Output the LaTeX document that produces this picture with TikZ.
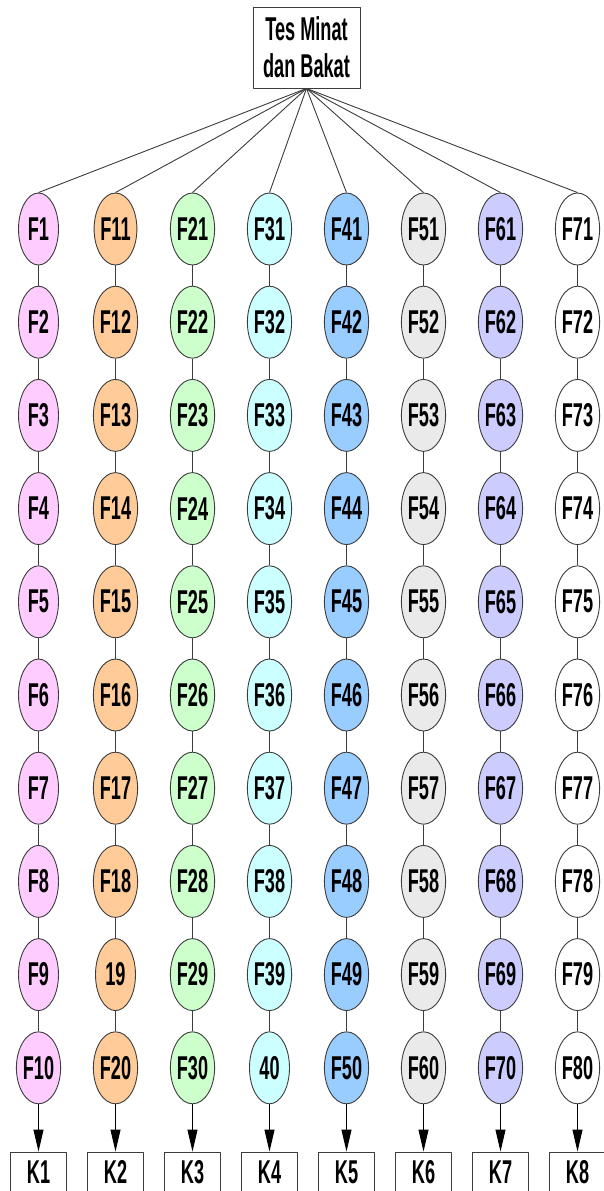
\documentclass[tikz,border=0pt]{standalone}
\usepackage{fontspec}
\setmainfont{Liberation Sans}[FakeStretch=0.55]
\usetikzlibrary{shapes.geometric,arrows.meta}

\definecolor{fpink}{RGB}{255,204,255}
\definecolor{forange}{RGB}{255,204,153}
\definecolor{fgreen}{RGB}{204,255,204}
\definecolor{fcyan}{RGB}{204,255,255}
\definecolor{fblue}{RGB}{153,204,255}
\definecolor{fgray}{RGB}{234,234,234}
\definecolor{flilac}{RGB}{204,204,255}
\definecolor{fwhite}{RGB}{255,255,255}
\definecolor{edgegray}{RGB}{60,60,60}

\begin{document}
\begin{tikzpicture}[
    x=1pt, y=-1pt,
    line join=round,
    every node/.style={font=\fontsize{33}{37}\selectfont\bfseries},
    faktor/.style={ellipse, draw=edgegray, line width=0.9pt,
        minimum width=40pt, minimum height=72pt, inner sep=0pt},
    kotak/.style={rectangle, draw=edgegray, line width=0.9pt, inner sep=0pt},
    garis/.style={edgegray, line width=0.9pt}
]

\clip (0,0) rectangle (604,1191);

% -----------------------------
% Top: test box
% -----------------------------
\node[kotak, align=center, minimum width=107pt, minimum height=81pt]
    (tes) at (306.5,47.5) {Tes Minat\\dan Bakat};

% -----------------------------
% Columns of factors
% -----------------------------
\foreach \c/\fcol in {0/fpink,1/forange,2/fgreen,3/fcyan,
                      4/fblue,5/fgray,6/flilac,7/fwhite} {
  \foreach \r in {1,...,10} {
    \pgfmathtruncatemacro{\num}{10*\c+\r}
    \ifnum\num=19 \def\lbl{19}\else
      \ifnum\num=40 \def\lbl{40}\else\def\lbl{F\num}\fi\fi
    \node[faktor, fill=\fcol] (f\num)
        at ({38.5+77*\c},{229+93.2*(\r-1)}) {\lbl};
  }
  \pgfmathtruncatemacro{\k}{\c+1}
  \node[kotak, minimum width=56pt, minimum height=40pt] (k\k)
      at ({38.5+77*\c},1172) {K\k};
}

% -----------------------------
% Connectors
% -----------------------------
\foreach \c in {0,...,7} {
  \pgfmathtruncatemacro{\first}{10*\c+1}
  \pgfmathtruncatemacro{\last}{10*\c+10}
  \pgfmathtruncatemacro{\k}{\c+1}
  \draw[garis] (tes.south) -- (f\first.north);
  \foreach \r in {1,...,9} {
    \pgfmathtruncatemacro{\a}{10*\c+\r}
    \pgfmathtruncatemacro{\b}{\a+1}
    \draw[garis] (f\a.south) -- (f\b.north);
  }
  \draw[garis, -{Triangle[length=22pt,width=10pt]}, black]
      (f\last.south) -- (k\k.north);
}

\end{tikzpicture}
\end{document}
